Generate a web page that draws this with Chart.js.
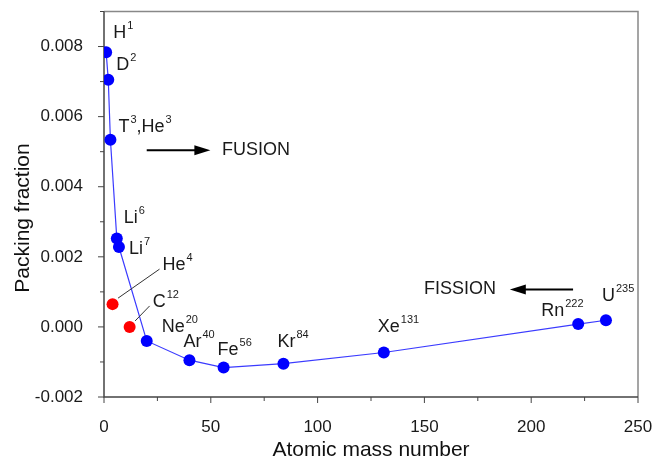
<!DOCTYPE html>
<html lang="en">
<head>
    <meta charset="UTF-8">
    <title>Packing fraction vs atomic mass number</title>
    <script src="https://cdn.jsdelivr.net/npm/chart.js"></script>
    <style>
        body { margin: 0; background: #fff; }
        canvas { display: block; }
    </style>
</head>
<body>
    <canvas id="chart" width="666" height="459"></canvas>

    <script>
        // nuclides on the curve
        const massNumbers = [1, 2, 3, 6, 7, 20, 40, 56, 84, 131, 222, 235];
        const packingFractions = [0.00784, 0.00705, 0.00534, 0.00252, 0.00228, -0.00040,
                                  -0.00095, -0.00116, -0.00105, -0.00073, 0.00008, 0.00019];
        const curveLabels = ['H^1', 'D^2', 'T^3,He^3', 'Li^6', 'Li^7', 'Ne^20',
                             'Ar^40', 'Fe^56', 'Kr^84', 'Xe^131', 'Rn^222', 'U^235'];

        // special nuclides (red, off the curve)
        const specialMass = [4, 12];
        const specialFractions = [0.00065, 0.0];
        const specialLabels = ['He^4', 'C^12'];

        // axis ticks
        const xTickLabels = [0, 50, 100, 150, 200, 250];
        const yTickLabels = [-0.002, 0.000, 0.002, 0.004, 0.006, 0.008];

        // label offsets from their point, in px
        const curveOffsets = [[7, -14], [8, -10], [8, -8], [7, -16], [10, 7], [15, -9],
                              [-6, -13], [-6, -13], [-6, -17], [-6, -20], [-37, -8], [-4, -19]];
        const specialOffsets = [[50, -34], [23, -20]];

        const FONT = '"Liberation Sans", Arial, sans-serif';

        function drawRich(ctx, text, x, y) {
            const parts = text.split(/\^(\d+)/);
            let cx = x;
            parts.forEach((p, i) => {
                if (!p) return;
                if (i % 2 === 0) {
                    ctx.font = '18px ' + FONT;
                    ctx.fillText(p, cx, y);
                    cx += ctx.measureText(p).width + 1;
                } else {
                    ctx.font = '11px ' + FONT;
                    ctx.fillText(p, cx, y - 9);
                    cx += ctx.measureText(p).width;
                }
            });
        }

        function arrow(ctx, x1, x2, y) {
            const dir = x2 > x1 ? 1 : -1;
            ctx.strokeStyle = '#000';
            ctx.lineWidth = 2;
            ctx.beginPath();
            ctx.moveTo(x1, y);
            ctx.lineTo(x2 - dir * 12, y);
            ctx.stroke();
            ctx.fillStyle = '#000';
            ctx.beginPath();
            ctx.moveTo(x2, y);
            ctx.lineTo(x2 - dir * 16, y - 5);
            ctx.lineTo(x2 - dir * 16, y + 5);
            ctx.closePath();
            ctx.fill();
        }

        const decorPlugin = {
            id: 'decor',
            beforeDatasetsDraw(chart) {
                const { ctx, chartArea: a, scales } = chart;
                ctx.save();
                // frame
                ctx.lineWidth = 1.5;
                ctx.strokeStyle = '#888';
                ctx.beginPath();
                ctx.moveTo(a.left, a.top);
                ctx.lineTo(a.right, a.top);
                ctx.lineTo(a.right, a.bottom);
                ctx.stroke();
                ctx.strokeStyle = '#444';
                ctx.beginPath();
                ctx.moveTo(a.left, a.top);
                ctx.lineTo(a.left, a.bottom);
                ctx.lineTo(a.right, a.bottom);
                ctx.stroke();

                // tick marks
                ctx.lineWidth = 1;
                scales.x.ticks.forEach(t => {
                    const px = scales.x.getPixelForValue(t.value);
                    const major = xTickLabels.includes(t.value);
                    ctx.beginPath();
                    ctx.moveTo(px, a.bottom);
                    ctx.lineTo(px, a.bottom + (major ? 6 : 4));
                    ctx.stroke();
                });
                scales.y.ticks.forEach(t => {
                    const py = scales.y.getPixelForValue(t.value);
                    const major = Math.round(t.value * 1000) % 2 === 0;
                    ctx.beginPath();
                    ctx.moveTo(a.left, py);
                    ctx.lineTo(a.left - (major ? 6 : 4), py);
                    ctx.stroke();
                });

                // axis titles
                ctx.fillStyle = '#111';
                ctx.font = '21px ' + FONT;
                ctx.textAlign = 'center';
                ctx.textBaseline = 'alphabetic';
                ctx.fillText('Atomic mass number', (a.left + a.right) / 2, 456);
                ctx.save();
                ctx.translate(29, 218);
                ctx.rotate(-Math.PI / 2);
                ctx.fillText('Packing fraction', 0, 0);
                ctx.restore();
                ctx.restore();
            },
            afterDatasetsDraw(chart) {
                const { ctx, scales } = chart;
                const sx = scales.x, sy = scales.y;
                ctx.save();
                ctx.fillStyle = '#1a1a1a';
                ctx.textAlign = 'left';
                ctx.textBaseline = 'alphabetic';

                chart.getDatasetMeta(0).data.forEach((pt, i) => {
                    const [dx, dy] = curveOffsets[i];
                    drawRich(ctx, curveLabels[i], pt.x + dx, pt.y + dy);
                });

                chart.getDatasetMeta(1).data.forEach((pt, i) => {
                    const [dx, dy] = specialOffsets[i];
                    // leader line
                    ctx.strokeStyle = '#333';
                    ctx.lineWidth = 1;
                    ctx.beginPath();
                    ctx.moveTo(pt.x + dx - 3, pt.y + dy - 1);
                    ctx.lineTo(pt.x + 5.5, pt.y - 6);
                    ctx.stroke();
                    drawRich(ctx, specialLabels[i], pt.x + dx, pt.y + dy);
                });

                // FUSION / FISSION annotations
                const yFus = sy.getPixelForValue(0.00504);
                arrow(ctx, sx.getPixelForValue(20), sx.getPixelForValue(49.8), yFus);
                ctx.fillStyle = '#1a1a1a';
                ctx.font = '18px ' + FONT;
                ctx.textBaseline = 'middle';
                ctx.fillText('FUSION', sx.getPixelForValue(55.2), yFus);

                const yFis = sy.getPixelForValue(0.00107);
                arrow(ctx, sx.getPixelForValue(219.6), sx.getPixelForValue(190), yFis);
                ctx.fillStyle = '#1a1a1a';
                ctx.textAlign = 'right';
                ctx.fillText('FISSION', sx.getPixelForValue(183.5), yFis);
                ctx.restore();
            }
        };

        new Chart(document.getElementById('chart'), {
            type: 'scatter',
            data: {
                datasets: [{
                    data: massNumbers.map((m, i) => ({ x: m, y: packingFractions[i] })),
                    showLine: true,
                    borderColor: '#3b3bff',
                    borderWidth: 1.2,
                    backgroundColor: '#0000ff',
                    pointBackgroundColor: '#0000ff',
                    pointBorderWidth: 0,
                    pointRadius: 6
                }, {
                    data: specialMass.map((m, i) => ({ x: m, y: specialFractions[i] })),
                    showLine: false,
                    pointBackgroundColor: '#ff0000',
                    backgroundColor: '#ff0000',
                    pointBorderWidth: 0,
                    pointRadius: 6
                }]
            },
            options: {
                responsive: false,
                animation: false,
                devicePixelRatio: 1,
                layout: { padding: { left: 0, right: 28, top: 11.5, bottom: 0 } },
                plugins: { legend: { display: false }, tooltip: { enabled: false } },
                scales: {
                    x: {
                        type: 'linear',
                        min: 0,
                        max: 250,
                        afterFit: s => {
                            s.height = 62;
                            s.paddingLeft = 0;
                            s.paddingRight = 0;
                        },
                        grid: { display: false },
                        border: { display: false },
                        ticks: {
                            stepSize: 25,
                            autoSkip: false,
                            maxRotation: 0,
                            padding: 12,
                            color: '#1a1a1a',
                            font: { family: FONT, size: 17 },
                            callback: v => xTickLabels.includes(v) ? String(v) : ''
                        }
                    },
                    y: {
                        min: -0.002,
                        max: 0.009,
                        afterFit: s => {
                            s.width = 104;
                            s.paddingTop = 0;
                            s.paddingBottom = 0;
                        },
                        grid: { display: false },
                        border: { display: false },
                        ticks: {
                            stepSize: 0.001,
                            autoSkip: false,
                            padding: 13,
                            color: '#1a1a1a',
                            font: { family: FONT, size: 17 },
                            callback: v => {
                                const hit = yTickLabels.find(t => Math.abs(t - v) < 1e-9);
                                return hit === undefined ? '' : hit.toFixed(3);
                            }
                        }
                    }
                }
            },
            plugins: [decorPlugin]
        });
    </script>
</body>
</html>
